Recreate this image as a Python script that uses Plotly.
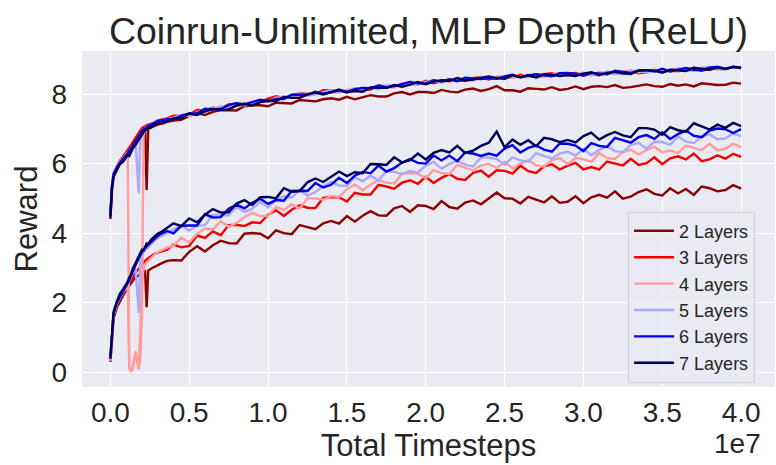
import plotly.graph_objects as go

# x positions in units of 1e7 timesteps
steps_1e7 = [0.00, 0.01, 0.02, 0.04, 0.06, 0.08, 0.10, 0.11, 0.12, 0.13, 0.14, 0.16,
             0.18, 0.19, 0.20, 0.21, 0.22, 0.23, 0.24, 0.26, 0.28, 0.30, 0.33, 0.36,
             0.40, 0.45, 0.50, 0.55, 0.60, 0.65, 0.70, 0.75, 0.80, 0.85,
             0.90, 0.95, 1.00, 1.05, 1.10, 1.15, 1.20, 1.25, 1.30, 1.35,
             1.40, 1.45, 1.50, 1.55, 1.60, 1.65, 1.70, 1.75, 1.80, 1.85,
             1.90, 1.95, 2.00, 2.05, 2.10, 2.15, 2.20, 2.25, 2.30, 2.35,
             2.40, 2.45, 2.50, 2.55, 2.60, 2.65, 2.70, 2.75, 2.80, 2.85,
             2.90, 2.95, 3.00, 3.05, 3.10, 3.15, 3.20, 3.25, 3.30, 3.35,
             3.40, 3.45, 3.50, 3.55, 3.60, 3.65, 3.70, 3.75, 3.80, 3.85,
             3.90, 3.95, 4.00]

layer_names = ["2 Layers", "3 Layers", "4 Layers", "5 Layers", "6 Layers", "7 Layers"]
layer_colors = ["#8b0000", "#f20000", "#ff9c9c", "#a8a8ff", "#0000ee", "#000055"]

x_tick_vals = [0.0, 0.5, 1.0, 1.5, 2.0, 2.5, 3.0, 3.5, 4.0]
x_tick_text = ["0.0", "0.5", "1.0", "1.5", "2.0", "2.5", "3.0", "3.5", "4.0"]
y_tick_vals = [0, 2, 4, 6, 8]

# ---- upper curves ----
train_2 = [4.42, 5.28, 5.64, 5.84, 6.00, 6.10, 6.20, 6.28, 6.32, 6.38, 6.45, 6.58,
           6.72, 6.80, 6.86, 6.92, 6.96, 5.24, 7.00, 7.04, 7.08, 7.12, 7.15, 7.20,
           7.24, 7.26, 7.37, 7.45, 7.40, 7.49, 7.54, 7.53, 7.53, 7.65,
           7.68, 7.68, 7.65, 7.75, 7.73, 7.73, 7.83, 7.81, 7.79, 7.85,
           7.88, 7.84, 7.92, 7.85, 7.92, 7.97, 7.93, 7.93, 8.02, 8.06,
           7.99, 8.06, 8.06, 8.03, 8.12, 8.07, 8.05, 8.13, 8.16, 8.09,
           8.14, 8.23, 8.11, 8.11, 8.07, 8.17, 8.15, 8.13, 8.20, 8.12,
           8.15, 8.22, 8.14, 8.21, 8.23, 8.20, 8.26, 8.18, 8.20, 8.25,
           8.28, 8.23, 8.21, 8.29, 8.24, 8.28, 8.22, 8.31, 8.29, 8.26,
           8.27, 8.33, 8.30]
train_3 = [4.40, 5.35, 5.72, 5.92, 6.08, 6.20, 6.32, 6.40, 6.45, 6.52, 6.60, 6.75,
           6.90, 6.95, 7.02, 7.05, 7.08, 7.10, 7.12, 7.15, 7.18, 7.24, 7.26, 7.30,
           7.38, 7.37, 7.41, 7.54, 7.53, 7.61, 7.58, 7.70, 7.72, 7.71,
           7.76, 7.77, 7.87, 7.94, 7.89, 7.97, 8.02, 8.00, 8.00, 8.11,
           8.10, 8.09, 8.05, 8.14, 8.12, 8.13, 8.24, 8.23, 8.21, 8.29,
           8.32, 8.29, 8.38, 8.31, 8.38, 8.43, 8.39, 8.38, 8.46, 8.49,
           8.42, 8.49, 8.49, 8.47, 8.56, 8.51, 8.49, 8.57, 8.60, 8.53,
           8.58, 8.61, 8.54, 8.57, 8.54, 8.64, 8.62, 8.60, 8.67, 8.60,
           8.63, 8.70, 8.62, 8.69, 8.72, 8.69, 8.76, 8.68, 8.71, 8.76,
           8.72, 8.78, 8.75]
train_4 = [4.46, 5.32, 5.70, 5.90, 6.05, 6.15, 6.28, 6.33, 0.12, 0.05, 0.08, 0.60,
           0.10, 0.40, 1.60, 6.80, 7.02, 7.05, 7.08, 7.12, 7.16, 7.22, 7.24, 7.28,
           7.28, 7.39, 7.37, 7.48, 7.55, 7.55, 7.65, 7.60, 7.66, 7.73,
           7.79, 7.77, 7.78, 7.90, 7.88, 7.95, 7.91, 8.02, 8.03, 8.01,
           8.05, 8.04, 8.12, 8.17, 8.10, 8.18, 8.22, 8.20, 8.19, 8.31,
           8.33, 8.32, 8.28, 8.37, 8.35, 8.35, 8.46, 8.44, 8.41, 8.47,
           8.49, 8.45, 8.53, 8.46, 8.52, 8.56, 8.51, 8.49, 8.57, 8.59,
           8.52, 8.58, 8.58, 8.55, 8.64, 8.59, 8.57, 8.65, 8.68, 8.62,
           8.67, 8.71, 8.64, 8.67, 8.64, 8.74, 8.72, 8.70, 8.77, 8.70,
           8.72, 8.78, 8.75]
train_5 = [4.48, 5.30, 5.66, 5.86, 6.02, 6.10, 6.25, 6.30, 6.35, 6.43, 6.50, 6.60,
           5.15, 6.82, 6.90, 6.97, 7.01, 7.05, 7.08, 7.12, 7.15, 7.21, 7.24, 7.27,
           7.32, 7.40, 7.39, 7.46, 7.47, 7.60, 7.61, 7.62, 7.72, 7.67,
           7.72, 7.82, 7.77, 7.87, 7.93, 7.92, 8.01, 7.95, 8.00, 8.06,
           8.11, 8.07, 8.06, 8.16, 8.12, 8.19, 8.14, 8.25, 8.25, 8.24,
           8.28, 8.27, 8.35, 8.40, 8.33, 8.40, 8.44, 8.41, 8.39, 8.49,
           8.50, 8.48, 8.43, 8.52, 8.49, 8.48, 8.58, 8.55, 8.52, 8.57,
           8.59, 8.54, 8.62, 8.54, 8.60, 8.64, 8.59, 8.57, 8.65, 8.68,
           8.61, 8.68, 8.68, 8.65, 8.74, 8.69, 8.67, 8.75, 8.78, 8.72,
           8.72, 8.78, 8.75]
train_6 = [4.50, 5.35, 5.68, 5.88, 6.02, 6.12, 6.24, 6.30, 6.36, 6.42, 6.50, 6.64,
           6.80, 6.86, 6.93, 6.98, 7.02, 7.04, 7.08, 7.12, 7.16, 7.22, 7.25, 7.28,
           7.27, 7.38, 7.44, 7.45, 7.58, 7.56, 7.57, 7.68, 7.74, 7.70,
           7.77, 7.84, 7.80, 7.86, 7.86, 7.98, 7.98, 7.98, 8.07, 8.01,
           8.05, 8.13, 8.06, 8.14, 8.18, 8.17, 8.25, 8.19, 8.23, 8.30,
           8.35, 8.31, 8.30, 8.40, 8.36, 8.42, 8.37, 8.47, 8.46, 8.43,
           8.46, 8.44, 8.51, 8.56, 8.48, 8.54, 8.57, 8.53, 8.51, 8.60,
           8.61, 8.58, 8.53, 8.61, 8.58, 8.57, 8.67, 8.64, 8.61, 8.67,
           8.69, 8.65, 8.73, 8.65, 8.71, 8.75, 8.70, 8.68, 8.76, 8.79,
           8.73, 8.79, 8.76]
train_7 = [4.45, 5.25, 5.62, 5.82, 5.98, 6.05, 6.18, 6.25, 6.22, 6.35, 6.42, 6.55,
           6.70, 6.78, 6.86, 6.90, 6.95, 6.98, 7.02, 7.05, 7.12, 7.15, 7.18, 7.22,
           7.30, 7.30, 7.44, 7.40, 7.50, 7.57, 7.55, 7.56, 7.67, 7.72,
           7.67, 7.77, 7.80, 7.80, 7.92, 7.89, 7.89, 7.99, 8.04, 7.99,
           8.06, 8.11, 8.05, 8.09, 8.07, 8.19, 8.18, 8.18, 8.26, 8.21,
           8.27, 8.35, 8.28, 8.36, 8.40, 8.38, 8.46, 8.39, 8.42, 8.47,
           8.51, 8.46, 8.44, 8.54, 8.49, 8.54, 8.48, 8.57, 8.56, 8.52,
           8.55, 8.52, 8.59, 8.63, 8.55, 8.61, 8.64, 8.60, 8.58, 8.68,
           8.69, 8.67, 8.62, 8.70, 8.67, 8.66, 8.76, 8.73, 8.70, 8.76,
           8.72, 8.78, 8.75]

# ---- lower curves ----
test_2 = [0.30, 1.05, 1.55, 1.85, 2.05, 2.20, 2.35, 2.42, 2.48, 2.55, 2.62, 2.72,
          2.80, 2.84, 2.86, 2.88, 2.90, 1.87, 2.92, 2.98, 3.03, 3.08, 3.14, 3.20,
          3.22, 3.21, 3.46, 3.62, 3.47, 3.65, 3.78, 3.71, 3.70, 3.98,
          4.00, 3.98, 3.85, 4.08, 4.00, 3.97, 4.23, 4.17, 4.11, 4.28,
          4.35, 4.27, 4.49, 4.33, 4.50, 4.63, 4.51, 4.50, 4.71, 4.78,
          4.61, 4.80, 4.78, 4.69, 4.92, 4.75, 4.70, 4.88, 4.94, 4.83,
          5.00, 5.17, 5.00, 4.99, 4.85, 5.04, 4.96, 4.88, 5.06, 4.87,
          4.90, 5.06, 4.86, 5.03, 5.10, 5.02, 5.20, 4.99, 5.05, 5.18,
          5.26, 5.13, 5.08, 5.29, 5.14, 5.27, 5.10, 5.34, 5.29, 5.20,
          5.24, 5.38, 5.28]
test_3 = [0.30, 1.12, 1.62, 1.92, 2.12, 2.26, 2.40, 2.48, 2.55, 2.62, 2.70, 2.86,
          2.98, 3.05, 3.10, 3.16, 3.20, 3.24, 3.28, 3.34, 3.40, 3.44, 3.48, 3.52,
          3.67, 3.59, 3.63, 3.93, 3.86, 4.05, 3.94, 4.23, 4.24, 4.20,
          4.31, 4.29, 4.52, 4.66, 4.49, 4.67, 4.80, 4.73, 4.72, 5.01,
          5.04, 5.03, 4.91, 5.16, 5.11, 5.11, 5.39, 5.34, 5.28, 5.45,
          5.52, 5.42, 5.62, 5.44, 5.59, 5.70, 5.56, 5.53, 5.73, 5.80,
          5.62, 5.81, 5.79, 5.71, 5.94, 5.78, 5.73, 5.92, 5.98, 5.83,
          5.94, 6.02, 5.83, 5.90, 5.83, 6.06, 6.01, 5.95, 6.14, 5.96,
          6.01, 6.18, 5.98, 6.15, 6.21, 6.12, 6.29, 6.07, 6.12, 6.24,
          6.14, 6.28, 6.19]
test_4 = [0.32, 1.15, 1.65, 1.95, 2.15, 2.30, 2.42, 2.45, 0.10, 0.03, 0.06, 0.55,
          0.08, 1.50, 2.60, 2.95, 3.10, 3.15, 3.20, 3.30, 3.38, 3.45, 3.52, 3.58,
          3.64, 3.87, 3.73, 3.98, 4.13, 4.11, 4.34, 4.18, 4.29, 4.46,
          4.58, 4.49, 4.49, 4.76, 4.66, 4.83, 4.71, 5.00, 5.00, 4.96,
          5.07, 5.04, 5.26, 5.40, 5.23, 5.40, 5.52, 5.45, 5.43, 5.71,
          5.73, 5.71, 5.58, 5.81, 5.73, 5.70, 5.96, 5.88, 5.80, 5.95,
          5.99, 5.87, 6.05, 5.86, 6.00, 6.10, 5.95, 5.91, 6.10, 6.16,
          5.98, 6.16, 6.13, 6.05, 6.30, 6.16, 6.13, 6.33, 6.40, 6.26,
          6.39, 6.49, 6.32, 6.38, 6.30, 6.52, 6.46, 6.39, 6.57, 6.38,
          6.43, 6.57, 6.48]
test_5 = [0.36, 1.15, 1.66, 1.96, 2.16, 2.30, 2.45, 2.52, 2.62, 2.72, 2.84, 2.95,
          1.70, 3.25, 3.38, 3.45, 3.50, 3.55, 3.60, 3.70, 3.78, 3.86, 3.94, 4.00,
          4.10, 4.22, 4.07, 4.22, 4.23, 4.52, 4.52, 4.51, 4.75, 4.61,
          4.70, 4.90, 4.74, 4.95, 5.06, 5.02, 5.24, 5.08, 5.18, 5.35,
          5.47, 5.37, 5.36, 5.61, 5.49, 5.65, 5.51, 5.78, 5.76, 5.70,
          5.79, 5.74, 5.94, 6.05, 5.85, 5.99, 6.08, 5.97, 5.92, 6.17,
          6.17, 6.13, 5.97, 6.18, 6.09, 6.05, 6.30, 6.22, 6.14, 6.29,
          6.34, 6.23, 6.42, 6.24, 6.39, 6.50, 6.36, 6.33, 6.53, 6.60,
          6.43, 6.63, 6.62, 6.54, 6.78, 6.63, 6.59, 6.78, 6.84, 6.70,
          6.72, 6.87, 6.79]
test_6 = [0.38, 1.18, 1.68, 1.98, 2.18, 2.33, 2.48, 2.55, 2.65, 2.76, 2.88, 3.08,
          3.28, 3.38, 3.45, 3.52, 3.56, 3.62, 3.66, 3.75, 3.84, 3.92, 4.00, 4.06,
          3.99, 4.21, 4.22, 4.22, 4.54, 4.45, 4.46, 4.70, 4.82, 4.71,
          4.87, 4.99, 4.84, 4.95, 4.93, 5.21, 5.22, 5.21, 5.44, 5.31,
          5.39, 5.59, 5.44, 5.65, 5.76, 5.72, 5.94, 5.77, 5.87, 6.03,
          6.13, 6.02, 6.00, 6.23, 6.09, 6.23, 6.07, 6.32, 6.29, 6.22,
          6.29, 6.23, 6.43, 6.53, 6.32, 6.45, 6.52, 6.40, 6.34, 6.58,
          6.57, 6.52, 6.36, 6.59, 6.51, 6.48, 6.74, 6.67, 6.60, 6.76,
          6.82, 6.71, 6.90, 6.71, 6.85, 6.95, 6.80, 6.76, 6.95, 7.01,
          6.99, 6.88, 6.99]
test_7 = [0.42, 1.25, 1.72, 2.02, 2.25, 2.38, 2.52, 2.60, 2.72, 2.80, 2.95, 3.15,
          3.35, 3.45, 3.52, 3.50, 3.62, 3.70, 3.68, 3.82, 3.90, 3.98, 4.05, 4.15,
          4.28, 4.20, 4.42, 4.31, 4.53, 4.69, 4.59, 4.60, 4.85, 4.95,
          4.81, 5.03, 5.04, 5.00, 5.29, 5.19, 5.21, 5.46, 5.57, 5.47,
          5.63, 5.77, 5.64, 5.75, 5.72, 5.99, 5.98, 5.96, 6.18, 6.03,
          6.10, 6.29, 6.12, 6.31, 6.39, 6.32, 6.51, 6.31, 6.37, 6.51,
          6.60, 6.92, 6.47, 6.69, 6.54, 6.67, 6.50, 6.74, 6.70, 6.62,
          6.68, 6.61, 6.79, 6.89, 6.69, 6.82, 6.91, 6.81, 6.76, 7.02,
          7.02, 6.98, 6.83, 7.05, 6.96, 6.92, 7.16, 7.07, 6.98, 7.12,
          7.03, 7.17, 7.08]

train_series = [train_2, train_3, train_4, train_5, train_6, train_7]
test_series = [test_2, test_3, test_4, test_5, test_6, test_7]
for s in train_series + test_series:
    assert len(s) == len(steps_1e7), len(s)

TEXT = "#262626"
FONT = "Liberation Sans, Arial, sans-serif"

fig = go.Figure()
for name, color, tr, te in zip(layer_names, layer_colors, train_series, test_series):
    fig.add_trace(go.Scatter(x=steps_1e7, y=tr, mode="lines", name=name,
                             legendgroup=name, line=dict(color=color, width=2.4)))
    fig.add_trace(go.Scatter(x=steps_1e7, y=te, mode="lines", name=name,
                             legendgroup=name, showlegend=False,
                             line=dict(color=color, width=2.4)))

fig.update_layout(
    width=776, height=465,
    margin=dict(l=82, r=1, t=51, b=78),
    paper_bgcolor="white", plot_bgcolor="#eaeaf2",
    font=dict(family=FONT, color=TEXT),
    title=dict(text="Coinrun-Unlimited, MLP Depth (ReLU)", x=0.5, xref="paper",
               xanchor="center", y=1 - 31 / 465, yref="container", yanchor="middle",
               font=dict(size=37.5, color=TEXT)),
    showlegend=True,
    legend=dict(x=0.788, y=0.522, xanchor="left", yanchor="top",
                bgcolor="rgba(234,234,242,0.85)", bordercolor="#d0d0d8", borderwidth=1,
                font=dict(size=18, color=TEXT), tracegroupgap=0, itemwidth=40),
)
fig.update_xaxes(range=[-0.18, 4.215], tickvals=x_tick_vals, ticktext=x_tick_text,
                 showgrid=True, gridcolor="white", gridwidth=1.2, zeroline=False,
                 showline=False, ticks="", ticklabelstandoff=6,
                 tickfont=dict(size=28, color=TEXT),
                 title=dict(text="Total Timesteps", font=dict(size=31, color=TEXT), standoff=0))
fig.update_yaxes(range=[-0.43, 9.24], tickvals=y_tick_vals,
                 showgrid=True, gridcolor="white", gridwidth=1.2, zeroline=False,
                 showline=False, ticks="", ticklabelstandoff=14,
                 tickfont=dict(size=28, color=TEXT),
                 title=dict(text="Reward", font=dict(size=31, color=TEXT), standoff=4))
fig.add_annotation(text="1e7", xref="paper", yref="paper", x=(763 - 82) / 693,
                   y=(387 - 443) / 336, xanchor="right", yanchor="middle",
                   showarrow=False, font=dict(size=28, color=TEXT))

fig.write_html("out.html")
